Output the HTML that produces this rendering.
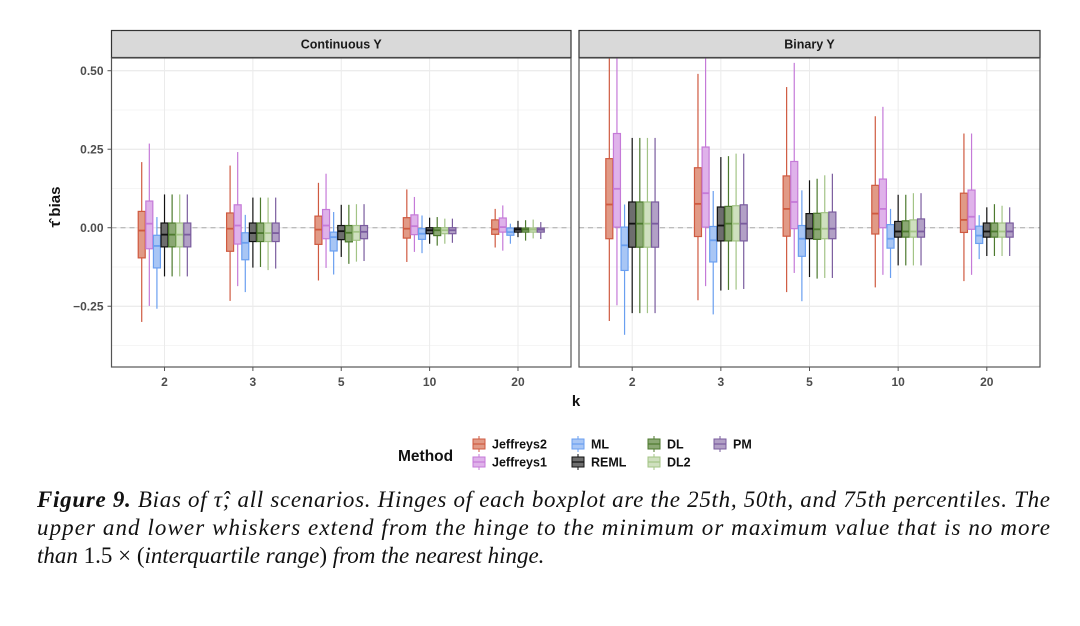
<!DOCTYPE html>
<html><head><meta charset="utf-8"><style>
body{margin:0;background:#fff;width:1080px;height:626px;overflow:hidden}
svg{display:block}
.t{font-family:"Liberation Sans",sans-serif}
.cap{font-family:"Liberation Serif",serif;font-style:italic;font-size:23px;fill:#111}
</style></head><body>
<svg id="chart" width="1080" height="626" viewBox="0 0 1080 626" xmlns="http://www.w3.org/2000/svg">
<g id="panels"></g>
<g id="legend"></g>
<text class="cap" x="37" y="507" textLength="1013" lengthAdjust="spacing"><tspan font-weight="bold">Figure 9.</tspan>  Bias of τ̂; all scenarios. Hinges of each boxplot are the 25th, 50th, and 75th percentiles. The</text>
<text class="cap" x="37" y="535" textLength="1013" lengthAdjust="spacing">upper and lower whiskers extend from the hinge to the minimum or maximum value that is no more</text>
<text class="cap" x="37" y="563">than <tspan font-style="normal">1.5 × (</tspan>interquartile range<tspan font-style="normal">)</tspan> from the nearest hinge.</text>
</svg>
<script>
const categories=["2","3","5","10","20"];
const methods=["Jeffreys2","Jeffreys1","ML","REML","DL","DL2","PM"];
const panelTitles=["Continuous Y","Binary Y"];
const yTicks=[-0.25,0,0.25,0.5];
const yTickLabels=["\u22120.25","0.00","0.25","0.50"];
// each entry: [low, q1, median, q3, high] per method per category
const contJeffreys2=[[-0.30,-0.096,-0.009,0.052,0.209],[-0.233,-0.075,-0.003,0.047,0.198],[-0.168,-0.053,-0.006,0.037,0.143],[-0.109,-0.033,-0.003,0.032,0.122],[-0.063,-0.021,-0.005,0.025,0.06]];
const contJeffreys1=[[-0.249,-0.067,0.013,0.085,0.268],[-0.186,-0.052,0.007,0.073,0.241],[-0.128,-0.035,0.007,0.058,0.172],[-0.077,-0.022,0.005,0.041,0.098],[-0.073,-0.014,0.002,0.031,0.071]];
const contML=[[-0.258,-0.128,-0.058,-0.024,0.034],[-0.205,-0.102,-0.048,-0.016,0.041],[-0.149,-0.074,-0.03,-0.014,0.05],[-0.081,-0.037,-0.019,-0.003,0.039],[-0.051,-0.024,-0.014,-0.001,0.013]];
const contREML=[[-0.155,-0.061,-0.022,0.015,0.106],[-0.127,-0.044,-0.017,0.015,0.096],[-0.093,-0.038,-0.011,0.007,0.073],[-0.051,-0.019,-0.008,0,0.032],[-0.03,-0.014,-0.006,-0.001,0.022]];
const contDL=[[-0.155,-0.061,-0.022,0.015,0.106],[-0.125,-0.044,-0.017,0.015,0.096],[-0.115,-0.045,-0.016,0.007,0.073],[-0.057,-0.025,-0.008,0,0.034],[-0.041,-0.014,-0.006,-0.001,0.024]];
const contDL2=[[-0.155,-0.061,-0.022,0.015,0.106],[-0.135,-0.044,-0.017,0.015,0.096],[-0.108,-0.04,-0.013,0.007,0.075],[-0.051,-0.019,-0.008,0,0.029],[-0.034,-0.014,-0.006,-0.001,0.026]];
const contPM=[[-0.155,-0.061,-0.022,0.015,0.106],[-0.13,-0.044,-0.017,0.015,0.096],[-0.106,-0.035,-0.013,0.007,0.075],[-0.048,-0.019,-0.008,0,0.029],[-0.036,-0.014,-0.006,-0.001,0.018]];
const binJeffreys2=[[-0.297,-0.035,0.074,0.22,0.6],[-0.231,-0.028,0.076,0.191,0.49],[-0.205,-0.027,0.06,0.165,0.448],[-0.19,-0.02,0.045,0.135,0.355],[-0.17,-0.015,0.025,0.11,0.3]];
const binJeffreys1=[[-0.247,0.002,0.124,0.30,0.6],[-0.186,0.002,0.11,0.257,0.6],[-0.144,-0.003,0.082,0.211,0.525],[-0.15,0,0.06,0.155,0.385],[-0.15,-0.005,0.035,0.12,0.3]];
const binML=[[-0.341,-0.136,-0.056,0.002,0.074],[-0.276,-0.109,-0.04,0.004,0.117],[-0.234,-0.091,-0.035,0.007,0.119],[-0.16,-0.065,-0.035,0.01,0.06],[-0.1,-0.05,-0.025,0.005,0.04]];
const binREML=[[-0.272,-0.062,0.013,0.082,0.286],[-0.2,-0.042,0.007,0.066,0.225],[-0.157,-0.035,-0.003,0.045,0.151],[-0.12,-0.03,-0.012,0.02,0.105],[-0.09,-0.03,-0.012,0.015,0.065]];
const binDL=[[-0.272,-0.062,0.013,0.082,0.286],[-0.198,-0.042,0.013,0.068,0.228],[-0.162,-0.037,-0.005,0.046,0.156],[-0.12,-0.03,-0.012,0.022,0.105],[-0.09,-0.03,-0.012,0.015,0.075]];
const binDL2=[[-0.272,-0.062,0.013,0.082,0.286],[-0.197,-0.042,0.013,0.07,0.236],[-0.16,-0.035,-0.003,0.048,0.167],[-0.12,-0.03,-0.012,0.025,0.11],[-0.09,-0.03,-0.012,0.015,0.07]];
const binPM=[[-0.272,-0.062,0.013,0.082,0.286],[-0.195,-0.042,0.013,0.073,0.236],[-0.16,-0.035,-0.003,0.05,0.172],[-0.12,-0.03,-0.012,0.028,0.11],[-0.09,-0.03,-0.012,0.015,0.065]];
const contData=[contJeffreys2,contJeffreys1,contML,contREML,contDL,contDL2,contPM];
const binData=[binJeffreys2,binJeffreys1,binML,binREML,binDL,binDL2,binPM];

const strokeCols=["#cf5a40","#c57ad8","#6a9ff0","#111111","#4d7a2e","#a3c486","#7a5c9e"];
const fillCols=["#e19a86","#dfb2ea","#a8c6f5","#6e6e6e","#8ba874","#cfe0bf","#b2a0c6"];
const NS="http://www.w3.org/2000/svg";
function mk(tag,attrs,parent){const e=document.createElementNS(NS,tag);for(const k in attrs)e.setAttribute(k,attrs[k]);parent.appendChild(e);return e;}
const yTop=58,yBot=367,yMin=-0.4435,yMax=0.5405;
function yScale(v){v=Math.max(yMin,Math.min(yMax,v));return yBot-(v-yMin)/(yMax-yMin)*(yBot-yTop);}
const panelsG=document.getElementById('panels');
const panelX=[[111.5,571],[579,1040]];
[contData,binData].forEach((data,p)=>{
  const [x0,x1]=panelX[p];
  const g=mk('g',{},panelsG);
  
  
  const step=(x1-x0)/5.2;
  function xScale(i){return x0+step*(0.6+i);}
  const st=mk('rect',{x:x0,y:30.5,width:x1-x0,height:27,fill:'#d9d9d9',stroke:'#333','stroke-width':1.2},g);
  
  
  const stt=mk('text',{x:(x0+x1)/2,y:48.5,'text-anchor':'middle','font-size':12.5,'font-weight':'bold',fill:'#1a1a1a',class:'t'},g);
  stt.textContent=panelTitles[p];
  
  
  for(let v=-0.375;v<=0.5;v+=0.25) mk('line',{x1:x0,x2:x1,y1:yScale(v),y2:yScale(v),stroke:'#f2f2f2','stroke-width':0.8},g);
  yTicks.forEach(v=>mk('line',{x1:x0,x2:x1,y1:yScale(v),y2:yScale(v),stroke:'#e6e6e6','stroke-width':1},g));
  categories.forEach((c,i)=>mk('line',{x1:xScale(i),x2:xScale(i),y1:yTop,y2:yBot,stroke:'#ebebeb','stroke-width':1},g));
  mk('line',{x1:x0,x2:x1,y1:yScale(0),y2:yScale(0),stroke:'#aaa','stroke-width':1,'stroke-dasharray':'5,4'},g);
  const dw=step*0.086, bw=dw*0.92;
  data.forEach((series,m)=>{
    series.forEach((d,i)=>{
      const cx=xScale(i)+(m-3)*dw;
      const bg=mk('g',{},g);
      
      
      mk('line',{x1:cx,x2:cx,y1:yScale(d[4]),y2:yScale(d[3]),stroke:strokeCols[m],'stroke-width':1.2},bg);
      mk('line',{x1:cx,x2:cx,y1:yScale(d[1]),y2:yScale(d[0]),stroke:strokeCols[m],'stroke-width':1.2},bg);
      mk('rect',{x:cx-bw/2,y:yScale(d[3]),width:bw,height:Math.max(0.5,yScale(d[1])-yScale(d[3])),fill:fillCols[m],stroke:strokeCols[m],'stroke-width':1.2},bg);
      mk('line',{x1:cx-bw/2,x2:cx+bw/2,y1:yScale(d[2]),y2:yScale(d[2]),stroke:strokeCols[m],'stroke-width':1.8},bg);
    });
  });
  mk('rect',{x:x0,y:yTop,width:x1-x0,height:yBot-yTop,fill:'none',stroke:'#555','stroke-width':1.2},g);
  categories.forEach((c,i)=>{
    mk('line',{x1:xScale(i),x2:xScale(i),y1:yBot,y2:yBot+4,stroke:'#555'},g);
    const t=mk('text',{x:xScale(i),y:yBot+19,'text-anchor':'middle','font-size':12,'font-weight':'bold',fill:'#4d4d4d',class:'t'},g);
    t.textContent=c;
    
    
  });
  if(p===0){
    yTicks.forEach((v,j)=>{
      mk('line',{x1:x0-4,x2:x0,y1:yScale(v),y2:yScale(v),stroke:'#555'},g);
      const t=mk('text',{x:x0-8,y:yScale(v)+4.5,'text-anchor':'end','font-size':12,'font-weight':'bold',fill:'#4d4d4d',class:'t'},g);
      t.textContent=yTickLabels[j];
      
      
    });
  }
});
const xt=mk('text',{x:576,y:406,'text-anchor':'middle','font-size':15,'font-weight':'bold',fill:'#111',class:'t'},panelsG);
xt.textContent='k';


const yt=mk('text',{x:0,y:0,'text-anchor':'middle','font-size':15,'font-weight':'bold',fill:'#111',class:'t',transform:'translate(60,207) rotate(-90)'},panelsG);
yt.textContent='τ̂  bias';


const lg=document.getElementById('legend');
const lt=mk('text',{x:398,y:461,'font-size':15.5,'font-weight':'bold',fill:'#111',class:'t'},lg);
lt.textContent='Method';


const legPos=[[471,444],[471,462],[570,444],[570,462],[646,444],[646,462],[712,444]];
methods.forEach((m,i)=>{
  const [lx,ly]=legPos[i];
  const e=mk('g',{},lg);
  
  
  mk('line',{x1:lx+8,x2:lx+8,y1:ly-8,y2:ly+8,stroke:strokeCols[i],'stroke-width':1},e);
  mk('rect',{x:lx+2,y:ly-5,width:12,height:10,fill:fillCols[i],stroke:strokeCols[i],'stroke-width':1},e);
  mk('line',{x1:lx+2,x2:lx+14,y1:ly,y2:ly,stroke:strokeCols[i],'stroke-width':1.2},e);
  const t=mk('text',{x:lx+21,y:ly+4.5,'font-size':12.5,'font-weight':'bold',fill:'#111',class:'t'},e);
  t.textContent=m;
});
</script>
</body></html>
